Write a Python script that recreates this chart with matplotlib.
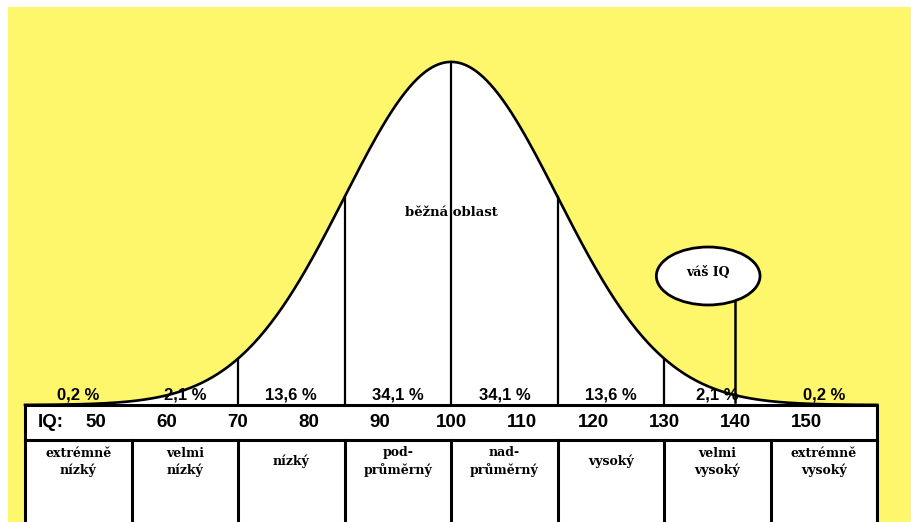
import numpy as np
import matplotlib.pyplot as plt
from matplotlib.patches import Rectangle, Ellipse

# IQ scale: mean 100, sd 15
bounds = [40, 55, 70, 85, 100, 115, 130, 145, 160]
percents = ["0,2 %", "2,1 %", "13,6 %", "34,1 %", "34,1 %", "13,6 %", "2,1 %", "0,2 %"]
iq_ticks = [50, 60, 70, 80, 90, 100, 110, 120, 130, 140, 150]
categories = ["extrémně\nnízký", "velmi\nnízký", "nízký", "pod-\nprůměrný",
              "nad-\nprůměrný", "vysoký", "velmi\nvysoký", "extrémně\nvysoký"]
inner_lines = [70, 85, 100, 115, 130]
your_iq = 140

yellow = "#fff76b"
row_h = 0.102

fig = plt.figure(figsize=(9.12, 5.22), dpi=100)
ax = fig.add_axes([8 / 912, 0, 904 / 912, 515 / 522])
ax.set_facecolor(yellow)
ax.set_xlim(37.6, 164.9)
ax.set_ylim(-0.341, 1.160)
ax.axis("off")
ax.add_patch(Rectangle((0, 0), 1, 1, transform=ax.transAxes, color=yellow, zorder=0))

def curve(v):
    return np.exp(-0.5 * ((np.asarray(v) - 100) / 15) ** 2)

x = np.linspace(bounds[0], bounds[-1], 600)
ax.fill_between(x, 0, curve(x), color="white", zorder=1)
ax.plot(x, curve(x), color="black", lw=1.9, zorder=3)
for b in inner_lines:
    ax.plot([b, b], [0, curve(b)], color="black", lw=1.6, zorder=2)

ax.text(100, 0.56, "běžná oblast", ha="center", va="center", family="DejaVu Serif",
        fontweight="bold", fontsize=9.5, zorder=4)

# percentages
for i, p in enumerate(percents):
    xc = (bounds[i] + bounds[i + 1]) / 2
    ax.text(xc, 0.006, p, ha="center", va="bottom", family="Liberation Sans",
            fontweight="bold", fontsize=12, zorder=4)

# table
lo, hi = bounds[0], bounds[-1]
ax.add_patch(Rectangle((lo, -0.5), hi - lo, 0.5, facecolor="white", edgecolor="none", zorder=4))
lw = 2.2
ax.plot([lo, hi, hi, lo, lo], [0, 0, -0.6, -0.6, 0], color="black", lw=lw, zorder=5)
ax.plot([lo, hi], [-row_h, -row_h], color="black", lw=lw, zorder=5)
for b in bounds[1:-1]:
    ax.plot([b, b], [-row_h, -0.6], color="black", lw=lw, zorder=5)

ax.text(41.8, -row_h / 2, "IQ:", ha="left", va="center", family="Liberation Sans",
        fontweight="bold", fontsize=13.5, zorder=6)
for t in iq_ticks:
    ax.text(t, -row_h / 2, str(t), ha="center", va="center", family="Liberation Sans",
            fontweight="bold", fontsize=13.5, zorder=6)

for i, c in enumerate(categories):
    xc = (bounds[i] + bounds[i + 1]) / 2
    ax.text(xc, -0.165, c, ha="center", va="center", family="DejaVu Serif",
            fontweight="bold", fontsize=9, linespacing=1.35, zorder=6)

# your IQ marker
ax.plot([your_iq, your_iq], [0.008, 0.376], color="black", lw=1.8, zorder=6)
ax.add_patch(Ellipse((136.2, 0.376), 14.6, 0.169, facecolor="white",
                     edgecolor="black", lw=2, zorder=7))
ax.text(136.2, 0.385, "váš IQ", ha="center", va="center", family="DejaVu Serif",
        fontweight="bold", fontsize=9, zorder=8)

fig.savefig("out.png", dpi=100)
